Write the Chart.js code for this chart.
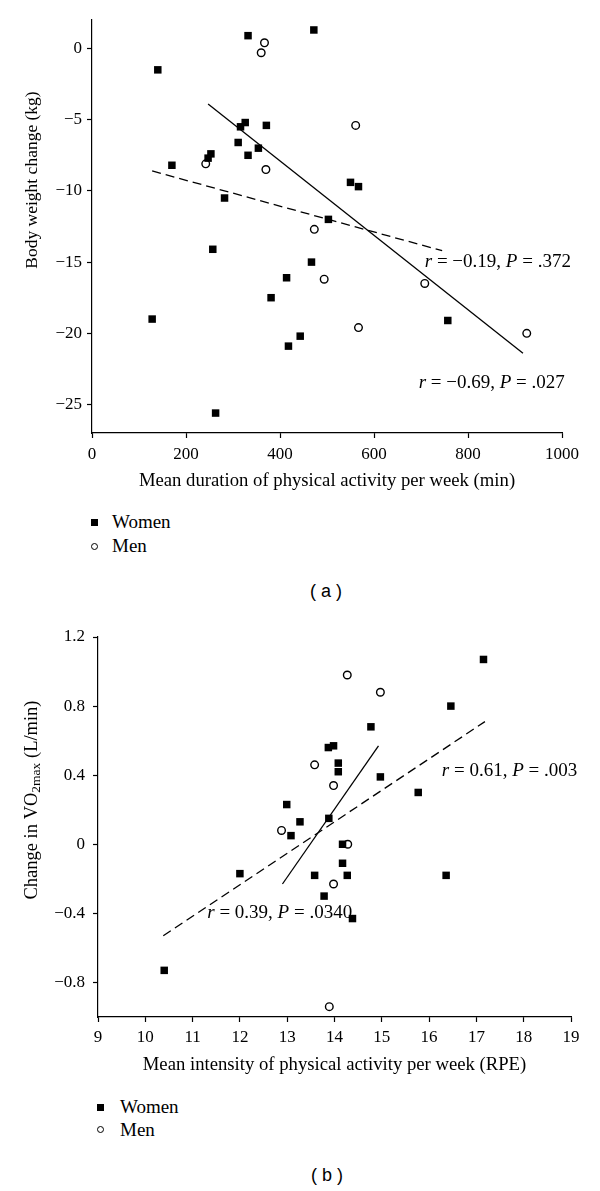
<!DOCTYPE html>
<html>
<head>
<meta charset="utf-8">
<script src="https://cdn.jsdelivr.net/npm/chart.js@4.4.1/dist/chart.umd.min.js"></script>
<style>
    body { margin: 0; background: #fff; }
    #page { position: relative; width: 600px; height: 1191px; color: #000; font-family: "Liberation Serif", "Times New Roman", serif; }
    canvas { position: absolute; left: 0; }
    #chartA { top: 0; }
    #chartB { top: 620px; }
    .lab { position: absolute; font-size: 19px; line-height: 20px; white-space: nowrap; }
    .sq { position: absolute; width: 7px; height: 7px; background: #000; }
    .ci { position: absolute; width: 5px; height: 5px; border: 1.5px solid #000; border-radius: 50%; background: #fff; }
    .cap { position: absolute; width: 100px; text-align: center; font-family: "Liberation Sans", Arial, sans-serif; font-size: 18px; line-height: 22px; }
</style>
</head>
<body>
<div id="page">
    <canvas id="chartA" width="600" height="500"></canvas>
    <canvas id="chartB" width="600" height="460"></canvas>

    <div class="sq" style="left:91px; top:519px;"></div>
    <div class="lab" style="left:112px; top:512px;">Women</div>
    <div class="ci" style="left:91px; top:543px;"></div>
    <div class="lab" style="left:112px; top:536px;">Men</div>
    <div class="cap" style="left:276px; top:580px;">( a )</div>

    <div class="sq" style="left:97px; top:1104px;"></div>
    <div class="lab" style="left:120px; top:1097px;">Women</div>
    <div class="ci" style="left:97px; top:1126px;"></div>
    <div class="lab" style="left:120px; top:1120px;">Men</div>
    <div class="cap" style="left:277px; top:1164px;">( b )</div>
</div>
<script>
// (a) duration (min) vs body weight change (kg)
const womenMinA = [332, 472, 140, 326, 316, 371, 311, 354, 332, 253, 247, 170, 282, 503, 550, 567, 257, 467, 414, 381, 128, 443, 418, 263, 757];
const womenKgA  = [0.9, 1.3, -1.5, -5.2, -5.5, -5.4, -6.6, -7.0, -7.5, -7.4, -7.7, -8.2, -10.5, -12.0, -9.4, -9.7, -14.1, -15.0, -16.1, -17.5, -19.0, -20.2, -20.9, -25.6, -19.1];
const menMinA = [367, 360, 242, 370, 561, 473, 494, 708, 567, 925];
const menKgA  = [0.4, -0.3, -8.1, -8.5, -5.4, -12.7, -16.2, -16.5, -19.6, -20.0];
const fitMenMinA = [247, 917];
const fitMenKgA = [-3.9, -21.4];
const fitWomenMinA = [128, 745];
const fitWomenKgA = [-8.6, -14.2];
const yTicksA = [0, -5, -10, -15, -20, -25];

// (b) intensity (RPE) vs change in VO2max (L/min)
const womenRpeB = [17.15, 16.46, 14.77, 13.87, 13.98, 14.08, 14.08, 14.97, 15.77, 13.88, 12.99, 13.27, 13.08, 14.17, 14.17, 12.0, 13.58, 14.27, 16.36, 13.78, 14.38, 10.4];
const womenVo2B = [1.07, 0.80, 0.68, 0.56, 0.57, 0.47, 0.42, 0.39, 0.30, 0.15, 0.23, 0.13, 0.05, 0.00, -0.11, -0.17, -0.18, -0.18, -0.18, -0.30, -0.43, -0.73];
const menRpeB = [14.27, 14.97, 13.58, 13.98, 12.88, 14.28, 13.98, 13.89];
const menVo2B = [0.98, 0.88, 0.46, 0.34, 0.08, 0.00, -0.23, -0.94];
const fitMenRpeB = [12.9, 14.93];
const fitMenVo2B = [-0.23, 0.57];
const fitWomenRpeB = [10.38, 17.18];
const fitWomenVo2B = [-0.53, 0.71];
const yTicksB = [1.2, 0.8, 0.4, 0, -0.4, -0.8];

const SERIF = '"Liberation Serif", "Times New Roman", serif';
const MINUS = '\u2212';

const pts = (xs, ys) => xs.map((x, i) => ({ x: x, y: ys[i] }));

function font(size, italic) {
    return (italic ? 'italic ' : '') + size + 'px ' + SERIF;
}

// draw a line of text made of several runs (italic r / P, subscripts)
function drawRuns(ctx, runs, x, y, align) {
    let total = 0;
    runs.forEach(r => {
        ctx.font = font(r.size, r.italic);
        r.w = ctx.measureText(r.text).width;
        total += r.w;
    });
    let cx = align === 'center' ? x - total / 2 : x;
    runs.forEach(r => {
        ctx.font = font(r.size, r.italic);
        ctx.fillText(r.text, cx, y + (r.dy || 0));
        cx += r.w;
    });
}

function statRuns(rText, pText) {
    return [
        { text: 'r', size: 19, italic: true },
        { text: ' = ' + rText + ', ', size: 19 },
        { text: 'P', size: 19, italic: true },
        { text: ' = ' + pText, size: 19 }
    ];
}

function textPlugin(cfg) {
    return {
        id: 'texts',
        afterDraw(chart) {
            const ctx = chart.ctx;
            const area = chart.chartArea;
            const xs = chart.scales.x, ys = chart.scales.y;
            ctx.save();
            ctx.fillStyle = '#000';
            ctx.textBaseline = 'middle';

            // x title
            drawRuns(ctx, [{ text: cfg.xTitle, size: 18.7 }], (area.left + area.right) / 2, cfg.xTitleY, 'center');

            // y title, rotated
            ctx.save();
            ctx.translate(32, cfg.yTitleY);
            ctx.rotate(-Math.PI / 2);
            drawRuns(ctx, cfg.yTitle, 0, 0, 'center');
            ctx.restore();

            cfg.notes.forEach(n => {
                drawRuns(ctx, n.runs, xs.getPixelForValue(n.x), ys.getPixelForValue(n.y), 'left');
            });
            ctx.restore();
        }
    };
}

function makeChart(id, opt) {
    const tickFont = { family: SERIF, size: 17 };
    return new Chart(document.getElementById(id), {
        type: 'scatter',
        data: {
            datasets: [
                {
                    label: 'Women',
                    data: opt.women,
                    pointStyle: 'rect',
                    pointRadius: 5.3,
                    backgroundColor: '#000',
                    borderWidth: 0
                },
                {
                    label: 'Men',
                    data: opt.men,
                    pointStyle: 'circle',
                    pointRadius: 3.8,
                    backgroundColor: '#fff',
                    borderColor: '#000',
                    borderWidth: 1.4
                },
                {
                    type: 'line',
                    data: opt.solid,
                    borderColor: '#000',
                    borderWidth: 1.3,
                    pointRadius: 0,
                    fill: false
                },
                {
                    type: 'line',
                    data: opt.dashed,
                    borderColor: '#000',
                    borderWidth: 1.3,
                    borderDash: [9, 5],
                    pointRadius: 0,
                    fill: false
                }
            ]
        },
        options: {
            responsive: false,
            devicePixelRatio: 1,
            animation: false,
            events: [],
            layout: { padding: opt.padding },
            plugins: { legend: { display: false }, tooltip: { enabled: false } },
            scales: {
                x: {
                    type: 'linear',
                    min: opt.xMin,
                    max: opt.xMax,
                    ticks: { stepSize: opt.xStep, color: '#000', font: tickFont, padding: opt.xPad, maxRotation: 0, callback: v => String(v) },
                    grid: { drawOnChartArea: false, color: '#000', tickLength: 5, tickWidth: 1.2 },
                    border: { color: '#000', width: 1.2 },
                    afterFit: s => { s.height = opt.xHeight; s.paddingLeft = 0; s.paddingRight = 0; }
                },
                y: {
                    type: 'linear',
                    min: opt.yMin,
                    max: opt.yMax,
                    afterBuildTicks: s => { s.ticks = opt.yTicks.map(v => ({ value: v })); },
                    ticks: { color: '#000', font: tickFont, padding: opt.yPad, callback: opt.yFormat },
                    grid: { drawOnChartArea: false, color: '#000', tickLength: 5, tickWidth: 1.2 },
                    border: { color: '#000', width: 1.2 },
                    afterFit: s => { s.width = opt.yWidth; s.paddingTop = 0; s.paddingBottom = 0; }
                }
            }
        },
        plugins: [textPlugin(opt.texts)]
    });
}

makeChart('chartA', {
    women: pts(womenMinA, womenKgA),
    men: pts(menMinA, menKgA),
    solid: pts(fitMenMinA, fitMenKgA),
    dashed: pts(fitWomenMinA, fitWomenKgA),
    xMin: 0, xMax: 1000, xStep: 200, xPad: 6, xHeight: 67,
    yMin: -27, yMax: 2, yTicks: yTicksA, yPad: 5, yWidth: 92,
    yFormat: v => v === 0 ? '0' : (v < 0 ? MINUS : '') + Math.abs(v),
    padding: { left: 0, top: 20, right: 38, bottom: 0 },
    texts: {
        xTitle: 'Mean duration of physical activity per week (min)',
        xTitleY: 481,
        yTitle: [{ text: 'Body weight change (kg)', size: 17.5 }],
        yTitleY: 180,
        notes: [
            { x: 708, y: -14.96, runs: statRuns(MINUS + '0.19', '.372') },
            { x: 695, y: -23.5, runs: statRuns(MINUS + '0.69', '.027') }
        ]
    }
});

makeChart('chartB', {
    women: pts(womenRpeB, womenVo2B),
    men: pts(menRpeB, menVo2B),
    solid: pts(fitMenRpeB, fitMenVo2B),
    dashed: pts(fitWomenRpeB, fitWomenVo2B),
    xMin: 9, xMax: 19, xStep: 1, xPad: 5, xHeight: 63,
    yMin: -1.0, yMax: 1.2, yTicks: yTicksB, yPad: 8, yWidth: 98,
    yFormat: v => v === 0 ? '0' : (v < 0 ? MINUS : '') + Math.abs(v).toFixed(1),
    padding: { left: 0, top: 17, right: 29, bottom: 0 },
    texts: {
        xTitle: 'Mean intensity of physical activity per week (RPE)',
        xTitleY: 445,
        yTitle: [
            { text: 'Change in VO', size: 18.5 },
            { text: '2max', size: 13.5, dy: 4 },
            { text: ' (L/min)', size: 18.5 }
        ],
        yTitleY: 180,
        notes: [
            { x: 16.27, y: 0.427, runs: statRuns('0.61', '.003') },
            { x: 11.31, y: -0.40, runs: statRuns('0.39', '.0340') }
        ]
    }
});
</script>
</body>
</html>
